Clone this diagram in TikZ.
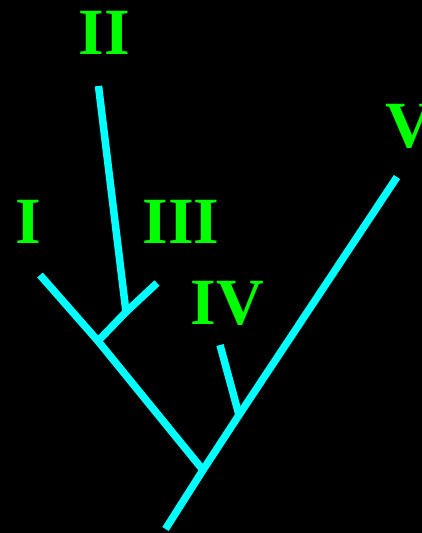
\documentclass[tikz,border=0pt]{standalone}
\usepackage{fontspec}
\setmainfont{Liberation Serif}
\definecolor{branchcyan}{RGB}{0,255,255}
\definecolor{labelgreen}{RGB}{0,255,0}
\begin{document}
\begin{tikzpicture}[x=1pt,y=-1pt,
  branch/.style={draw=branchcyan, line width=7.5pt, line cap=butt},
  taxon/.style={text=labelgreen, font=\fontsize{66}{70}\selectfont\bfseries, anchor=base, inner sep=0pt}]
\fill[black] (0,0) rectangle (422,533);
\useasboundingbox (0,0) rectangle (422,533);
% coordinates
\coordinate (root) at (165.5,529);
\coordinate (j1) at (203,470);
\coordinate (j2) at (98,341);
\coordinate (j3) at (126,312);
\coordinate (j4) at (239,415);
\coordinate (tI) at (40,275);
\coordinate (tII) at (98.5,86);
\coordinate (tIII) at (157,283);
\coordinate (tIV) at (220,345);
\coordinate (tV) at (397,177);
% branches
\draw[branch] (root) -- (j1) -- (j4) -- (tV);
\draw[branch] (tI) -- (j2) -- (j1);
\draw[branch] (j2) -- (j3) -- (tIII);
\draw[branch] (tII) -- (j3);
\draw[branch] (tIV) -- (j4);
% labels
\node[taxon] (lI) at (28.5,243) {I};
\node[taxon] (lII) at (104.5,54) {II};
\node[taxon] (lIII) at (181,243) {III};
\node[taxon] (lIV) at (227.5,324) {IV};
\node[taxon] (lV) at (409,147) {V};
\end{tikzpicture}
\end{document}
